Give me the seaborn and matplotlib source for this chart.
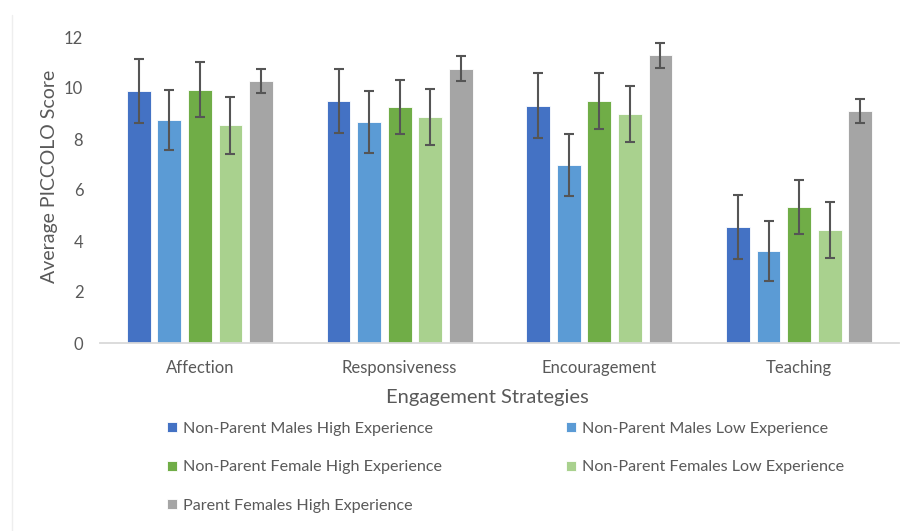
import pandas as pd
import numpy as np
import matplotlib
matplotlib.use("Agg")
import matplotlib.pyplot as plt
from matplotlib.lines import Line2D
import seaborn as sns

# Values
strategies = ['Affection', 'Responsiveness', 'Encouragement', 'Teaching']
groups = ['Non-Parent Males High Experience',
          'Non-Parent Males Low Experience',
          'Non-Parent Female High Experience',
          'Non-Parent Females Low Experience',
          'Parent Females High Experience']

males_high = [9.87, 9.49, 9.30, 4.54]
males_low = [8.76, 8.68, 6.99, 3.61]
females_high = [9.94, 9.27, 9.49, 5.32]
females_low = [8.53, 8.86, 8.97, 4.42]
parents_high = [10.28, 10.75, 11.29, 9.09]

males_high_err = [1.25, 1.27, 1.27, 1.26]
males_low_err = [1.18, 1.22, 1.21, 1.19]
females_high_err = [1.08, 1.06, 1.08, 1.06]
females_low_err = [1.10, 1.10, 1.10, 1.10]
parents_high_err = [0.47, 0.49, 0.49, 0.46]

colors = ['#4472C4', '#5B9BD5', '#70AD47', '#A9D18E', '#A5A5A5']

series = [males_high, males_low, females_high, females_low, parents_high]
errors = [males_high_err, males_low_err, females_high_err, females_low_err, parents_high_err]

rows = []
for g, vals, errs in zip(groups, series, errors):
    for s, v, e in zip(strategies, vals, errs):
        rows.append({'Strategy': s, 'Group': g, 'Score': v, 'Err': e})
df = pd.DataFrame(rows)

sns.set_theme(style='white')
plt.rcParams['font.family'] = ['Lato', 'DejaVu Sans']
text_color = '#595959'

fig = plt.figure(figsize=(9.1, 5.31), dpi=100)
ax = fig.add_axes([100 / 910, 1 - 343 / 531, 799 / 910, 306 / 531])

sns.barplot(data=df, x='Strategy', y='Score', hue='Group', hue_order=groups,
            order=strategies, palette=colors, saturation=1, width=0.765, gap=0.22,
            errorbar=None, ax=ax, edgecolor='white', linewidth=0.6)

# error bars on the drawn bars
bar_containers = list(ax.containers)
for g, container in zip(groups, bar_containers):
    sub = df[df['Group'] == g].set_index('Strategy').loc[strategies]
    xs = [p.get_x() + p.get_width() / 2 for p in container.patches]
    ys = [p.get_height() for p in container.patches]
    ax.errorbar(xs, ys, yerr=sub['Err'].values, fmt='none', ecolor='#555555',
                elinewidth=1.5, capsize=3.5, capthick=1.5, zorder=5)

ax.set_ylim(0, 12)
ax.set_yticks([0, 2, 4, 6, 8, 10, 12])
ax.set_xlim(-0.5, 3.5)
for side in ['top', 'right', 'left']:
    ax.spines[side].set_visible(False)
ax.spines['bottom'].set_color('#D9D9D9')
ax.spines['bottom'].set_linewidth(1.3)
ax.tick_params(axis='both', length=0, labelsize=12, colors=text_color)
ax.tick_params(axis='x', pad=12)
ax.tick_params(axis='y', pad=12)

ax.set_xlabel('Engagement Strategies', fontsize=14.5, color=text_color)
ax.set_ylabel('Average PICCOLO Score', fontsize=14, color=text_color)
ax.xaxis.set_label_coords(0.485, -0.15)
ax.yaxis.set_label_coords(-0.053, 0.546)

handles, labels = ax.get_legend_handles_labels()
ax.get_legend().remove()
order = [0, 2, 4, 1, 3]
leg = fig.legend([handles[i] for i in order], [labels[i] for i in order],
                 ncol=2, loc='upper left', bbox_to_anchor=(167 / 910, 1 - 422 / 531),
                 frameon=False, fontsize=11.6, handlelength=0.6, handleheight=0.6,
                 handletextpad=0.4, columnspacing=7.7, labelspacing=1.52,
                 borderaxespad=0, borderpad=0)
for t in leg.get_texts():
    t.set_color(text_color)

# faint frame line on the left, as in the source image
fig.add_artist(Line2D([12 / 910, 12 / 910], [0, 1 - 15 / 531], color='#EEEEEE', lw=1))

fig.savefig('out.png', dpi=100)
